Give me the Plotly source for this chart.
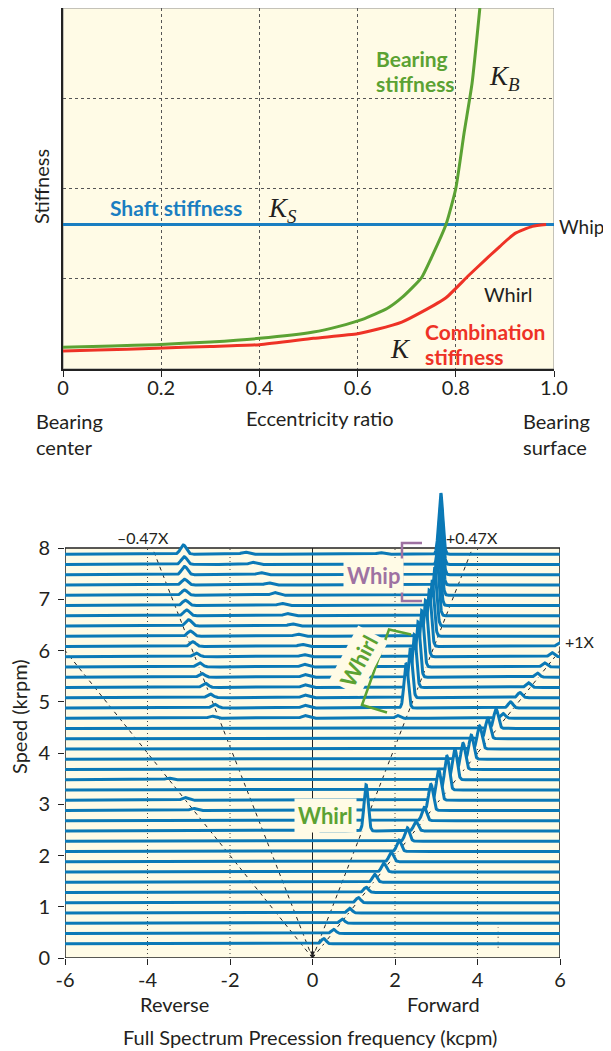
import numpy as np
import plotly.graph_objects as go

W, H = 611, 1051
FONT = "Lato"
SERIF = "Liberation Serif"
CREAM = "#FFFBE6"
TRACE_BLUE = "#0B79B6"
SHAFT_BLUE = "#1A7EC1"
GREEN = "#5BA233"
RED = "#EE3226"
PURPLE = "#9E72A2"
TXT = "#231F20"

# ---------------- top chart data ----------------
ecc_bearing = [0.0, 0.10, 0.19, 0.30, 0.40, 0.51, 0.56, 0.61, 0.66, 0.69, 0.73, 0.75, 0.78, 0.80, 0.817, 0.833, 0.849]
k_bearing = [0.24, 0.255, 0.27, 0.30, 0.34, 0.41, 0.47, 0.55, 0.67, 0.79, 1.01, 1.23, 1.60, 2.00, 2.62, 3.16, 4.00]
ecc_comb = [0.0, 0.07, 0.19, 0.30, 0.40, 0.51, 0.60, 0.64, 0.69, 0.73, 0.78, 0.825, 0.86, 0.89, 0.92, 0.956, 0.984]
k_comb = [0.20, 0.21, 0.23, 0.25, 0.27, 0.34, 0.39, 0.44, 0.52, 0.63, 0.79, 1.03, 1.21, 1.36, 1.50, 1.58, 1.60]
ecc_shaft = [0.0, 1.0]
k_shaft = [1.60, 1.60]
top_xticks = [0, 0.2, 0.4, 0.6, 0.8, 1.0]
top_xticklabels = ["0", "0.2", "0.4", "0.6", "0.8", "1.0"]

# ---------------- bottom chart data (waterfall) ----------------
speeds = [0.28, 0.48, 0.68, 0.88, 1.08, 1.28, 1.48, 1.68, 1.88, 2.08,
          2.28, 2.48, 2.68, 2.88, 3.08, 3.28, 3.48, 3.68, 3.88, 4.08,
          4.28, 4.48, 4.68, 4.88, 5.08, 5.28, 5.48, 5.68, 5.88, 6.08,
          6.28, 6.48, 6.68, 6.88, 7.08, 7.28, 7.48, 7.68, 7.88]

# forward 1X response (row index, frequency kcpm, amplitude)
onex_rows = list(range(30))
onex_freq = [0.27, 0.51, 0.72, 0.90, 1.11, 1.30, 1.51, 1.73, 1.91, 2.10,
             2.30, 2.51, 2.71, 2.87, 3.06, 3.26, 3.45, 3.65, 3.85, 4.05,
             4.25, 4.45, 4.62, 4.80, 5.03, 5.23, 5.45, 5.62, 5.80, 5.98]
onex_amp = [0.10, 0.08, 0.08, 0.09, 0.10, 0.10, 0.15, 0.17, 0.18, 0.22,
            0.26, 0.18, 0.26, 0.51, 0.59, 0.66, 0.61, 0.51, 0.47, 0.45,
            0.40, 0.38, 0.09, 0.12, 0.10, 0.09, 0.08, 0.08, 0.08, 0.07]

# forward subsynchronous whirl / whip
whirl_rows = [11, 22, 23, 24, 25, 26, 27, 28, 29, 30, 31, 32, 33, 34, 35, 36, 37, 38]
whirl_freq = [1.30, 2.06, 2.27, 2.37, 2.47, 2.56, 2.65, 2.74, 2.83, 2.90,
              2.96, 3.01, 3.05, 3.08, 3.10, 3.11, 3.11, 3.11]
whirl_amp = [0.90, 0.05, 0.86, 0.97, 1.03, 1.08, 1.10, 1.10, 1.10, 1.10,
             1.15, 1.20, 1.25, 1.25, 1.25, 1.25, 1.22, 1.19]

# reverse components
rev_rows = [13, 14, 16, 22, 23, 24, 25, 26, 27, 28, 29, 30, 31, 32, 33, 34, 35, 36, 37, 38]
rev_freq = [-2.89, -3.09, -3.49, -2.44, -2.37, -2.48, -2.60, -2.68, -2.74, -2.82,
            -2.90, -2.96, -3.00, -3.05, -3.08, -3.10, -3.10, -3.10, -3.11, -3.13]
rev_amp = [0.04, 0.05, 0.03, 0.04, 0.07, 0.07, 0.08, 0.07, 0.08, 0.07,
           0.09, 0.10, 0.12, 0.11, 0.10, 0.10, 0.11, 0.16, 0.15, 0.18]

# small secondary bumps
small_rows = [11, 22, 23, 24, 25, 26, 27, 28, 29, 30, 31, 32, 33, 34, 35, 36, 37, 38, 38]
small_freq = [-0.05, -0.18, -0.18, -0.18, -0.18, -0.18, -0.20, -0.21, -0.26, -0.36,
              -0.50, -0.61, -0.75, -0.92, -1.07, -1.26, -1.45, -1.64, 1.64]
small_amp = [0.06, 0.05, 0.05, 0.05, 0.05, 0.05, 0.05, 0.04, 0.04, 0.04,
             0.04, 0.04, 0.04, 0.05, 0.04, 0.04, 0.04, 0.04, 0.03]

order_ratios = [-1.0, -0.485, 0.485, 1.0]
order_labels = ["\u20130.47X", "+0.47X", "+1X"]
bot_xticks = [-6, -4, -2, 0, 2, 4, 6]
bot_yticks = [0, 1, 2, 3, 4, 5, 6, 7, 8]

# ---------------- geometry (screen pixels -> paper) ----------------
# the page body adds an 8px offset, compensate so marks land on screen pixels
OFF = 8

def px(x):
    return min(1.0, max(0.0, (x - OFF) / W))

def py(y):
    return min(1.0, max(0.0, 1 - (y - OFF) / H))

TOP_L, TOP_R, TOP_T, TOP_B = 63, 554, 8, 369
BOT_L, BOT_R, BOT_Y0 = 65, 560, 958
BOT_UNIT = 51.25
BOT_YMAX = 9.3

fig = go.Figure()

# ---------------- top chart traces ----------------
fig.add_trace(go.Scatter(x=ecc_shaft, y=k_shaft, mode="lines", line=dict(color=SHAFT_BLUE, width=3),
                         xaxis="x", yaxis="y", hoverinfo="skip", showlegend=False))
fig.add_trace(go.Scatter(x=ecc_bearing, y=k_bearing, mode="lines",
                         line=dict(color=GREEN, width=3, shape="spline", smoothing=0.5),
                         xaxis="x", yaxis="y", hoverinfo="skip", showlegend=False))
fig.add_trace(go.Scatter(x=ecc_comb, y=k_comb, mode="lines",
                         line=dict(color=RED, width=3, shape="spline", smoothing=0.5),
                         xaxis="x", yaxis="y", hoverinfo="skip", showlegend=False))

# ---------------- bottom chart: build spectra ----------------
xs = np.linspace(-6, 6, 1601)
n = len(speeds)
spectra = [np.full_like(xs, speeds[i]) for i in range(n)]

def add_peaks(rows, freqs, amps, sigma):
    for r, f, a in zip(rows, freqs, amps):
        spectra[r] = spectra[r] + a * np.exp(-0.5 * ((xs - f) / sigma) ** 2)

add_peaks(onex_rows, onex_freq, onex_amp, 0.055)
add_peaks(whirl_rows, whirl_freq, whirl_amp, 0.05)
add_peaks(rev_rows, rev_freq, rev_amp, 0.07)
add_peaks(small_rows, small_freq, small_amp, 0.08)

for i in range(n - 1, -1, -1):
    base = speeds[i]
    fx = np.concatenate([xs, [6, -6]])
    fy = np.concatenate([spectra[i], [base, base]])
    fig.add_trace(go.Scatter(x=fx, y=fy, mode="lines", fill="toself", fillcolor=CREAM,
                             line=dict(width=0, color=CREAM), xaxis="x2", yaxis="y2",
                             hoverinfo="skip", showlegend=False))
    fig.add_trace(go.Scatter(x=xs, y=spectra[i], mode="lines",
                             line=dict(color=TRACE_BLUE, width=3),
                             xaxis="x2", yaxis="y2", hoverinfo="skip", showlegend=False))

# ---------------- shapes ----------------
shapes = []
shapes.append(dict(type="rect", xref="x", yref="y", x0=0, x1=1, y0=0, y1=4,
                   fillcolor=CREAM, line=dict(color="#8a8a8a", width=1), layer="below"))
shapes.append(dict(type="rect", xref="x2", yref="y2", x0=-6, x1=6, y0=0, y1=8,
                   fillcolor=CREAM, line=dict(width=0), layer="below"))
for gx in [-4, -2, 2, 4]:
    shapes.append(dict(type="line", xref="x2", yref="y2", x0=gx, x1=gx, y0=0, y1=8,
                       line=dict(color="#444", width=1, dash="1px,3px"), layer="below"))
shapes.append(dict(type="line", xref="x2", yref="y2", x0=4.5, x1=4.5, y0=0.2, y1=0.6,
                   line=dict(color="#444", width=1.2, dash="1px,4px"), layer="below"))
shapes.append(dict(type="line", xref="x2", yref="y2", x0=0, x1=0, y0=0, y1=8,
                   line=dict(color="#222", width=1), layer="below"))
for r in order_ratios:
    yend = min(8.0, 6.0 / abs(r))
    shapes.append(dict(type="line", xref="x2", yref="y2", x0=0, y0=0, x1=r * yend, y1=yend,
                       line=dict(color="#222", width=1, dash="4px,4px"), layer="below"))
shapes.append(dict(type="rect", xref="x2", yref="y2", x0=-6, x1=6, y0=0, y1=8,
                   line=dict(color="#222", width=1.5), layer="below"))

def path(points):
    return "M " + " L ".join(f"{px(x):.5f},{py(y):.5f}" for x, y in points)

shapes.append(dict(type="path", xref="paper", yref="paper",
                   path=path([(422, 543), (402, 543), (402, 601), (422, 601)]),
                   line=dict(color=PURPLE, width=2.5), layer="above"))
shapes.append(dict(type="path", xref="paper", yref="paper",
                   path=path([(411, 634.5), (389, 629.5), (362, 705), (387, 712.5)]),
                   line=dict(color=GREEN, width=2.5), layer="above"))

# ---------------- annotations ----------------
ann = []

def text(x, y, s, size=20, color=TXT, xanchor="center", yanchor="middle", family=FONT, angle=0, bg=None, pad=1):
    d = dict(x=px(x), y=py(y), xref="paper", yref="paper", text=s, showarrow=False,
             xanchor=xanchor, yanchor=yanchor, textangle=angle,
             font=dict(family=family, size=size, color=color))
    if bg:
        d["bgcolor"] = bg
        d["borderpad"] = pad
    ann.append(d)

REG = 20
BLD = 21
text(41, 187, "Stiffness", REG, angle=-90)
text(374, 58, "<b>Bearing</b>", BLD, GREEN, xanchor="left")
text(374, 84, "<b>stiffness</b>", BLD, GREEN, xanchor="left")
text(487, 78, "<i>K</i><sub><i>B</i></sub>", 27, TXT, xanchor="left", family=SERIF)
text(176, 207, "<b>Shaft stiffness</b>", BLD, SHAFT_BLUE)
text(266, 210, "<i>K</i><sub><i>S</i></sub>", 27, TXT, xanchor="left", family=SERIF)
text(557, 227, "Whip", 19, xanchor="left")
text(482, 294, "Whirl", REG, xanchor="left")
text(423, 331, "<b>Combination</b>", BLD, RED, xanchor="left")
text(423, 356, "<b>stiffness</b>", BLD, RED, xanchor="left")
text(388, 349, "<i>K</i>", 27, TXT, xanchor="left", family=SERIF)
text(320, 418, "Eccentricity ratio", REG)
text(34, 421, "Bearing", REG, xanchor="left")
text(34, 447, "center", REG, xanchor="left")
text(521, 421, "Bearing", REG, xanchor="left")
text(521, 447, "surface", REG, xanchor="left")

text(19, 717, "Speed (krpm)", REG, angle=-90)
text(143, 537, order_labels[0], 16)
text(472, 537, order_labels[1], 16)
text(563, 641, order_labels[2], 16, xanchor="left")
text(373, 575, "<b>Whip</b>", 22, PURPLE, bg=CREAM, pad=3)
text(358, 661, "<b>Whirl</b>", 22, GREEN, angle=-62, bg=CREAM, pad=3)
text(325, 815, "<b>Whirl</b>", 22, GREEN, bg=CREAM, pad=3)
text(174, 1004, "Reverse", REG)
text(443, 1004, "Forward", REG)
text(310, 1037, "Full Spectrum Precession frequency (kcpm)", REG)

ann.append(dict(x=0, y=0.03, xref="x2", yref="y2", ax=0, ay=-16, axref="pixel", ayref="pixel",
                text="", showarrow=True, arrowhead=2, arrowsize=1, arrowwidth=1, arrowcolor="#222"))

bot_y_top = BOT_Y0 - BOT_YMAX * BOT_UNIT

fig.update_layout(
    width=W, height=H,
    margin=dict(l=0, r=0, t=0, b=0, autoexpand=False),
    paper_bgcolor="white", plot_bgcolor="rgba(0,0,0,0)",
    showlegend=False,
    font=dict(family=FONT, size=20, color=TXT),
    xaxis=dict(domain=[px(TOP_L), px(TOP_R)], anchor="y", range=[0, 1],
               tickvals=top_xticks, ticktext=top_xticklabels,
               ticks="outside", ticklen=6, tickcolor="#222", tickwidth=1,
               ticklabelstandoff=-6,
               showline=True, linecolor="#222", linewidth=1.5,
               showgrid=True, gridcolor="#555", griddash="dot", gridwidth=1,
               zeroline=False, tickfont=dict(size=20, family=FONT, color=TXT)),
    yaxis=dict(domain=[py(TOP_B), py(TOP_T)], anchor="x", range=[0, 4],
               tickvals=[1, 2, 3], showticklabels=False, ticks="",
               showline=True, linecolor="#222", linewidth=1.5,
               showgrid=True, gridcolor="#555", griddash="dot", gridwidth=1, zeroline=False),
    xaxis2=dict(domain=[px(BOT_L), px(BOT_R)], anchor="y2", range=[-6, 6],
                tickvals=bot_xticks, ticktext=[str(v) for v in bot_xticks],
                ticks="outside", ticklen=6, tickcolor="#222", tickwidth=1,
                ticklabelstandoff=-2,
                showline=False, showgrid=False, zeroline=False,
                tickfont=dict(size=20, family=FONT, color=TXT)),
    yaxis2=dict(domain=[py(BOT_Y0), py(bot_y_top)], anchor="x2", range=[0, BOT_YMAX],
                tickvals=bot_yticks, ticktext=[str(v) for v in bot_yticks],
                ticks="outside", ticklen=6, tickcolor="#222", tickwidth=1,
                ticklabelstandoff=4,
                showline=False, showgrid=False, zeroline=False,
                tickfont=dict(size=20, family=FONT, color=TXT)),
    shapes=shapes,
    annotations=ann,
)

fig.write_html("out.html")
